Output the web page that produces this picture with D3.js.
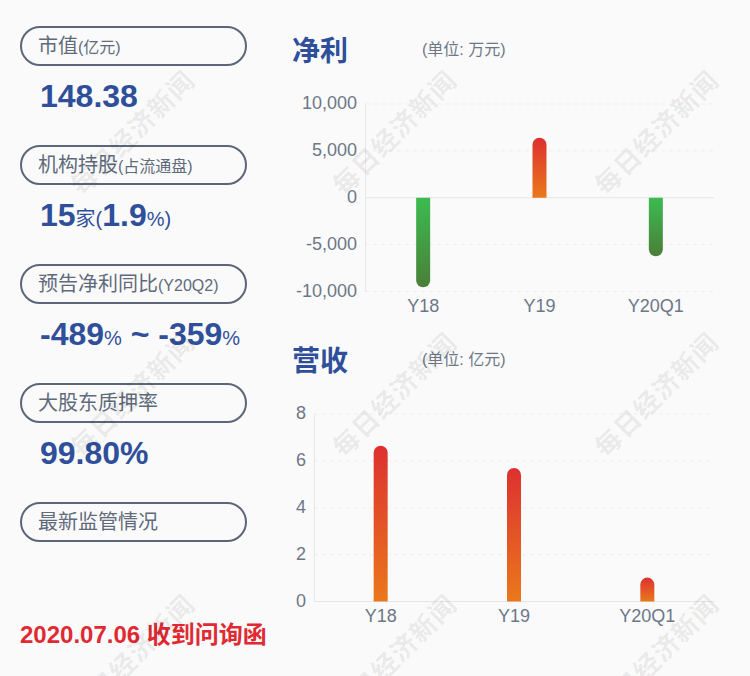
<!DOCTYPE html>
<html>
<head>
<meta charset="utf-8">
<script src="https://cdn.jsdelivr.net/npm/d3@7"></script>
<style>
html, body { margin: 0; padding: 0; background: #fafafa; }
svg { display: block; }
text { font-family: "Liberation Sans", "Noto Sans CJK SC", sans-serif; }
</style>
</head>
<body>
<svg id="chart" width="750" height="676"></svg>
<script>
// chart data
var categories = ["Y18", "Y19", "Y20Q1"];
var profitValues = [-9550, 6400, -6250];
var profitTicks = [10000, 5000, 0, -5000, -10000];
var revenueValues = [6.65, 5.7, 1.02];
var revenueTicks = [8, 6, 4, 2, 0];

// left column
var pillTitles = [
  [["市值", 20], ["(亿元)", 16]],
  [["机构持股", 20], ["(占流通盘)", 16]],
  [["预告净利同比", 20], ["(Y20Q2)", 16]],
  [["大股东质押率", 20]],
  [["最新监管情况", 20]]
];
var pillValues = [
  [["148.38", 32, "bold"]],
  [["15", 32, "bold"], ["家(", 20, "normal"], ["1.9", 32, "bold"], ["%)", 20, "normal"]],
  [["-489", 32, "bold"], ["%", 20, "normal"], [" ~ ", 32, "bold"], ["-359", 32, "bold"], ["%", 20, "normal"]],
  [["99.80%", 32, "bold"]],
  []
];
var noticeText = "2020.07.06 收到问询函";
var watermarkText = "每日经济新闻";

var blue = "#2f4f9b", grey = "#6d7787", pillStroke = "#5b6779";
var svg = d3.select("#chart");

var defs = svg.append("defs");
function gradient(id, top, bottom) {
  var g = defs.append("linearGradient").attr("id", id)
    .attr("x1", 0).attr("y1", 0).attr("x2", 0).attr("y2", 1);
  g.append("stop").attr("offset", "0%").attr("stop-color", top);
  g.append("stop").attr("offset", "100%").attr("stop-color", bottom);
}
gradient("redBar", "#dd3030", "#ea781b");
gradient("greenBar", "#3cbb50", "#4a7f39");

// pills
var pills = svg.append("g").selectAll("g").data(pillTitles).join("g")
  .attr("transform", function(d, i) { return "translate(0," + (27 + i * 119) + ")"; });

pills.append("rect")
  .attr("x", 21).attr("y", 0).attr("width", 225).attr("height", 38).attr("rx", 19)
  .attr("fill", "none").attr("stroke", pillStroke).attr("stroke-width", 2);

pills.append("text").attr("x", 38).attr("y", 26).attr("fill", "#5f6a7a")
  .selectAll("tspan").data(function(d) { return d; }).join("tspan")
  .attr("font-size", function(d) { return d[1]; })
  .text(function(d) { return d[0]; });

pills.append("text").attr("x", 40).attr("y", 80).attr("fill", blue)
  .attr("xml:space", "preserve").style("white-space", "pre")
  .selectAll("tspan").data(function(d, i) { return pillValues[i]; }).join("tspan")
  .attr("font-size", function(d) { return d[1]; })
  .attr("font-weight", function(d) { return d[2]; })
  .text(function(d) { return d[0]; });

svg.append("text").attr("x", 20).attr("y", 643)
  .attr("font-size", 24).attr("font-weight", "bold").attr("fill", "#e02a33")
  .text(noticeText);

function title(label, unit, y) {
  svg.append("text").attr("x", 292).attr("y", y)
    .attr("font-size", 28).attr("font-weight", "bold").attr("fill", blue).text(label);
  svg.append("text").attr("x", 422).attr("y", y - 6)
    .attr("font-size", 16).attr("fill", grey).text(unit);
}
title("净利", "(单位: 万元)", 61);
title("营收", "(单位: 亿元)", 371);

// rounded at the far end, flat on the zero line
function barPath(x0, w, yZero, yEnd) {
  var r = w / 2, s = yEnd < yZero ? 1 : -1;
  var p = d3.path();
  p.moveTo(x0, yZero);
  p.lineTo(x0, yEnd + s * r);
  p.arc(x0 + r, yEnd + s * r, r, Math.PI, 0, s < 0);
  p.lineTo(x0 + w, yZero);
  p.closePath();
  return p.toString();
}

function barChart(values, ticks, left, right, top, bottom) {
  var x = d3.scaleBand().domain(categories).range([left, right]);
  var y = d3.scaleLinear().domain([ticks[ticks.length - 1], ticks[0]]).range([bottom, top]);
  var barW = 14;
  var g = svg.append("g");

  g.append("g").selectAll("line").data(ticks.filter(function(t) { return t !== 0; })).join("line")
    .attr("x1", left).attr("x2", right)
    .attr("y1", function(d) { return y(d); }).attr("y2", function(d) { return y(d); })
    .attr("stroke", "#eeeeee").attr("stroke-dasharray", "4 4");

  var yAxis = g.append("g").attr("transform", "translate(" + left + ",0)")
    .call(d3.axisLeft(y).tickValues(ticks).tickSize(0).tickPadding(8)
      .tickFormat(function(d) { return d3.format(",")(d).replace("−", "-"); }));
  yAxis.select(".domain").attr("stroke", "#e8e8e8");
  yAxis.selectAll("text").attr("font-size", 18).attr("fill", grey).attr("dy", "0.27em")
    .style("font-family", "'Liberation Sans'");

  var xAxis = g.append("g").attr("transform", "translate(0," + bottom + ")")
    .call(d3.axisBottom(x).tickSize(0).tickPadding(8));
  xAxis.select(".domain").remove();
  xAxis.selectAll("text").attr("font-size", 18).attr("fill", grey)
    .style("font-family", "'Liberation Sans'");

  g.append("line").attr("x1", left).attr("x2", right)
    .attr("y1", y(0)).attr("y2", y(0)).attr("stroke", "#e6e6e6");

  g.append("g").selectAll("path").data(values).join("path")
    .attr("d", function(d, i) {
      return barPath(x(categories[i]) + x.bandwidth() / 2 - barW / 2, barW, y(0), y(d));
    })
    .attr("fill", function(d) { return d < 0 ? "url(#greenBar)" : "url(#redBar)"; });
}

barChart(profitValues, profitTicks, 365, 714, 104, 291.5);
barChart(revenueValues, revenueTicks, 314, 714, 414, 601.5);

// watermark
var marks = [];
[133, 395, 657].forEach(function(cy) {
  [133, 395, 657].forEach(function(cx) { marks.push([cx, cy]); });
});
svg.append("g").selectAll("text").data(marks).join("text")
  .attr("transform", function(d) { return "translate(" + d[0] + "," + d[1] + ") rotate(-45)"; })
  .attr("text-anchor", "middle").attr("dominant-baseline", "central")
  .attr("font-size", 26).attr("font-weight", "bold").attr("letter-spacing", 1)
  .attr("fill", "#000").attr("fill-opacity", 0.08)
  .text(watermarkText);
</script>
</body>
</html>
